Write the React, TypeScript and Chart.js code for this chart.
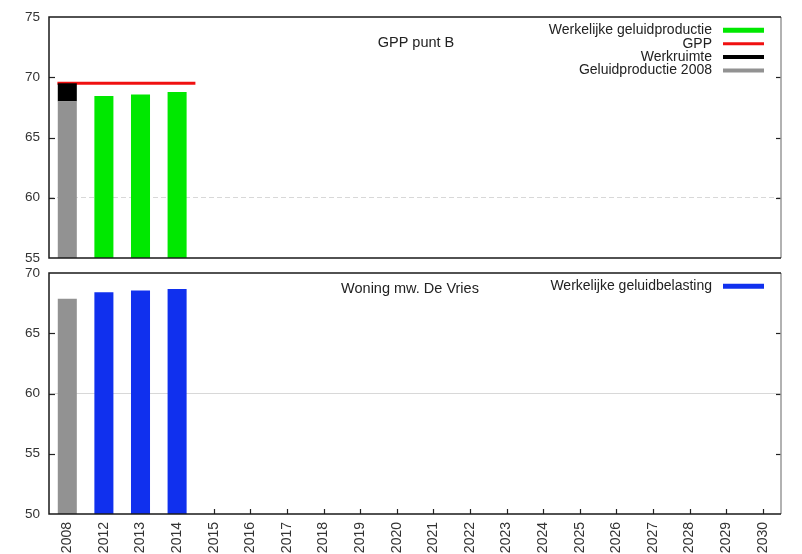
import React, { useEffect, useRef } from 'react';
import { Chart, registerables } from 'chart.js';
Chart.register(...registerables);

const years = ['2008', '2012', '2013', '2014', '2015', '2016', '2017', '2018', '2019', '2020', '2021', '2022', '2023', '2024', '2025', '2026', '2027', '2028', '2029', '2030'];

// Top chart: GPP punt B
const productie2008 = [68.0, null, null, null, null, null, null, null, null, null, null, null, null, null, null, null, null, null, null, null];
const werkruimte = [1.5, null, null, null, null, null, null, null, null, null, null, null, null, null, null, null, null, null, null, null];
const werkelijkeProductie = [null, 68.45, 68.57, 68.78, null, null, null, null, null, null, null, null, null, null, null, null, null, null, null, null];
const gppSpan = [-0.27, 3.5];
const gppLevel = [69.5, 69.5];
const topGridValues = [60];

// Bottom chart: Woning mw. De Vries
const belasting2008 = [67.87, null, null, null, null, null, null, null, null, null, null, null, null, null, null, null, null, null, null, null];
const werkelijkeBelasting = [null, 68.4, 68.55, 68.68, null, null, null, null, null, null, null, null, null, null, null, null, null, null, null, null];
const bottomGridValues = [60];

const FONT = '"Liberation Sans", Arial, sans-serif';

const decorPlugin = {
  id: 'decor',
  beforeDatasetsDraw(chart: any, _args: any, opts: any) {
    const ctx = chart.ctx;
    const { left, right, top, bottom } = chart.chartArea;
    const ys = chart.scales.y;
    ctx.save();
    ctx.strokeStyle = '#222';
    ctx.lineWidth = 1.2;
    ys.ticks.forEach((t: any) => {
      const py = Math.round(ys.getPixelForValue(t.value)) + 0.5;
      if (py <= top + 1 || py >= bottom - 1) return;
      ctx.beginPath();
      ctx.moveTo(left, py);
      ctx.lineTo(left + 6, py);
      ctx.stroke();
      ctx.beginPath();
      ctx.moveTo(right, py);
      ctx.lineTo(right - 5, py);
      ctx.stroke();
    });
    if (opts.xTicks) {
      const xs = chart.scales.x;
      xs.ticks.forEach((_t: any, i: number) => {
        const px = Math.round(xs.getPixelForTick(i)) + 0.5;
        ctx.beginPath();
        ctx.moveTo(px, bottom);
        ctx.lineTo(px, bottom - 5);
        ctx.stroke();
      });
    }
    ctx.restore();
  },
  afterDatasetsDraw(chart: any, _args: any, opts: any) {
    const ctx = chart.ctx;
    const { left, right, top, bottom } = chart.chartArea;
    ctx.save();
    // frame
    ctx.lineWidth = 1.5;
    ctx.strokeStyle = '#999';
    ctx.beginPath();
    ctx.moveTo(right, top);
    ctx.lineTo(right, bottom);
    ctx.stroke();
    ctx.strokeStyle = '#1a1a1a';
    ctx.beginPath();
    ctx.moveTo(right, top);
    ctx.lineTo(left, top);
    ctx.lineTo(left, bottom);
    ctx.lineTo(right, bottom);
    ctx.stroke();
    // title
    ctx.font = '14.5px ' + FONT;
    ctx.fillStyle = '#222';
    ctx.textBaseline = 'middle';
    ctx.textAlign = 'center';
    ctx.fillText(opts.title, left + opts.titleDx, top + opts.titleDy);
    // legend
    ctx.font = '14px ' + FONT;
    ctx.textAlign = 'right';
    opts.legend.forEach((item: any, i: number) => {
      const y = top + 13.3 + i * 13.4;
      ctx.fillStyle = '#222';
      ctx.fillText(item.label, right - 69, y);
      ctx.strokeStyle = item.color;
      ctx.lineWidth = item.width;
      ctx.beginPath();
      ctx.moveTo(right - 58, y);
      ctx.lineTo(right - 17, y);
      ctx.stroke();
    });
    ctx.restore();
  },
};

function gridColor(values: number[]) {
  return (c: any) => (c.tick && values.includes(c.tick.value) ? '#d8d8d8' : 'rgba(0,0,0,0)');
}

const yTickFont = { family: FONT, size: 13.5 };
const xTickFont = { family: FONT, size: 14 };
const barStyle = { barPercentage: 0.52, categoryPercentage: 1, grouped: false };

function TopChart() {
  const ref = useRef<HTMLCanvasElement>(null);
  useEffect(() => {
    const chart = new Chart(ref.current as HTMLCanvasElement, {
      type: 'bar',
      data: {
        labels: years,
        datasets: [
          { label: 'Geluidproductie 2008', data: productie2008, backgroundColor: '#929292', ...barStyle },
          { label: 'Werkruimte', data: werkruimte, backgroundColor: '#000000', ...barStyle },
          { label: 'Werkelijke geluidproductie', data: werkelijkeProductie, backgroundColor: '#00e800', ...barStyle },
          {
            type: 'line',
            label: 'GPP',
            xAxisID: 'x2',
            data: gppSpan.map((x, i) => ({ x, y: gppLevel[i] })),
            borderColor: '#f01010',
            borderWidth: 3,
            pointRadius: 0,
            fill: false,
          } as any,
        ],
      },
      options: {
        animation: false,
        responsive: false,
        devicePixelRatio: 1,
        layout: { padding: { top: 17, right: 21, bottom: 7, left: 0 } },
        plugins: {
          legend: { display: false },
          tooltip: { enabled: false },
          decor: {
            title: 'GPP punt B',
            titleDx: 367,
            titleDy: 26,
            xTicks: false,
            legend: [
              { label: 'Werkelijke geluidproductie', color: '#00e800', width: 5 },
              { label: 'GPP', color: '#f01010', width: 3 },
              { label: 'Werkruimte', color: '#000000', width: 4 },
              { label: 'Geluidproductie 2008', color: '#929292', width: 4 },
            ],
          },
        } as any,
        scales: {
          x: { type: 'category', display: false, stacked: true, offset: true },
          x2: { type: 'linear', display: false, offset: false, grid: { offset: false }, min: -0.5, max: years.length - 0.5 },
          y: {
            stacked: true,
            min: 55,
            max: 75,
            afterFit: (s: any) => { s.width = 49; s.paddingTop = 17; s.paddingBottom = 7; },
            ticks: { stepSize: 5, padding: 9, color: '#333', font: yTickFont },
            grid: { drawTicks: false, color: gridColor(topGridValues), lineWidth: 1 },
            border: { display: false, dash: [5, 3] },
          },
        },
      },
      plugins: [decorPlugin],
    });
    return () => chart.destroy();
  }, []);
  return <canvas ref={ref} width={802} height={265} style={{ display: 'block' }} />;
}

function BottomChart() {
  const ref = useRef<HTMLCanvasElement>(null);
  useEffect(() => {
    const chart = new Chart(ref.current as HTMLCanvasElement, {
      type: 'bar',
      data: {
        labels: years,
        datasets: [
          { label: 'Geluidbelasting 2008', data: belasting2008, backgroundColor: '#929292', ...barStyle },
          { label: 'Werkelijke geluidbelasting', data: werkelijkeBelasting, backgroundColor: '#1030ee', ...barStyle },
        ],
      },
      options: {
        animation: false,
        responsive: false,
        devicePixelRatio: 1,
        layout: { padding: { top: 8, right: 21, bottom: 0, left: 0 } },
        plugins: {
          legend: { display: false },
          tooltip: { enabled: false },
          decor: {
            title: 'Woning mw. De Vries',
            titleDx: 361,
            titleDy: 16,
            xTicks: true,
            legend: [{ label: 'Werkelijke geluidbelasting', color: '#1030ee', width: 5 }],
          },
        } as any,
        scales: {
          x: {
            type: 'category',
            stacked: true,
            offset: true,
            afterFit: (s: any) => { s.height = 40; },
            ticks: { autoSkip: false, minRotation: 90, maxRotation: 90, padding: 8, color: '#333', font: xTickFont },
            grid: { display: false, drawTicks: false },
            border: { display: false },
          },
          y: {
            stacked: true,
            min: 50,
            max: 70,
            afterFit: (s: any) => { s.width = 49; s.paddingTop = 8; s.paddingBottom = 0; },
            ticks: { stepSize: 5, padding: 9, color: '#333', font: yTickFont },
            grid: { drawTicks: false, color: gridColor(bottomGridValues), lineWidth: 1 },
            border: { display: false },
          },
        },
      },
      plugins: [decorPlugin],
    });
    return () => chart.destroy();
  }, []);
  return <canvas ref={ref} width={802} height={289} style={{ display: 'block' }} />;
}

export default function App() {
  return (
    <div style={{ position: 'absolute', left: 0, top: 0, width: 802, height: 554, overflow: 'hidden', background: '#fff' }}>
      <TopChart />
      <BottomChart />
    </div>
  );
}
